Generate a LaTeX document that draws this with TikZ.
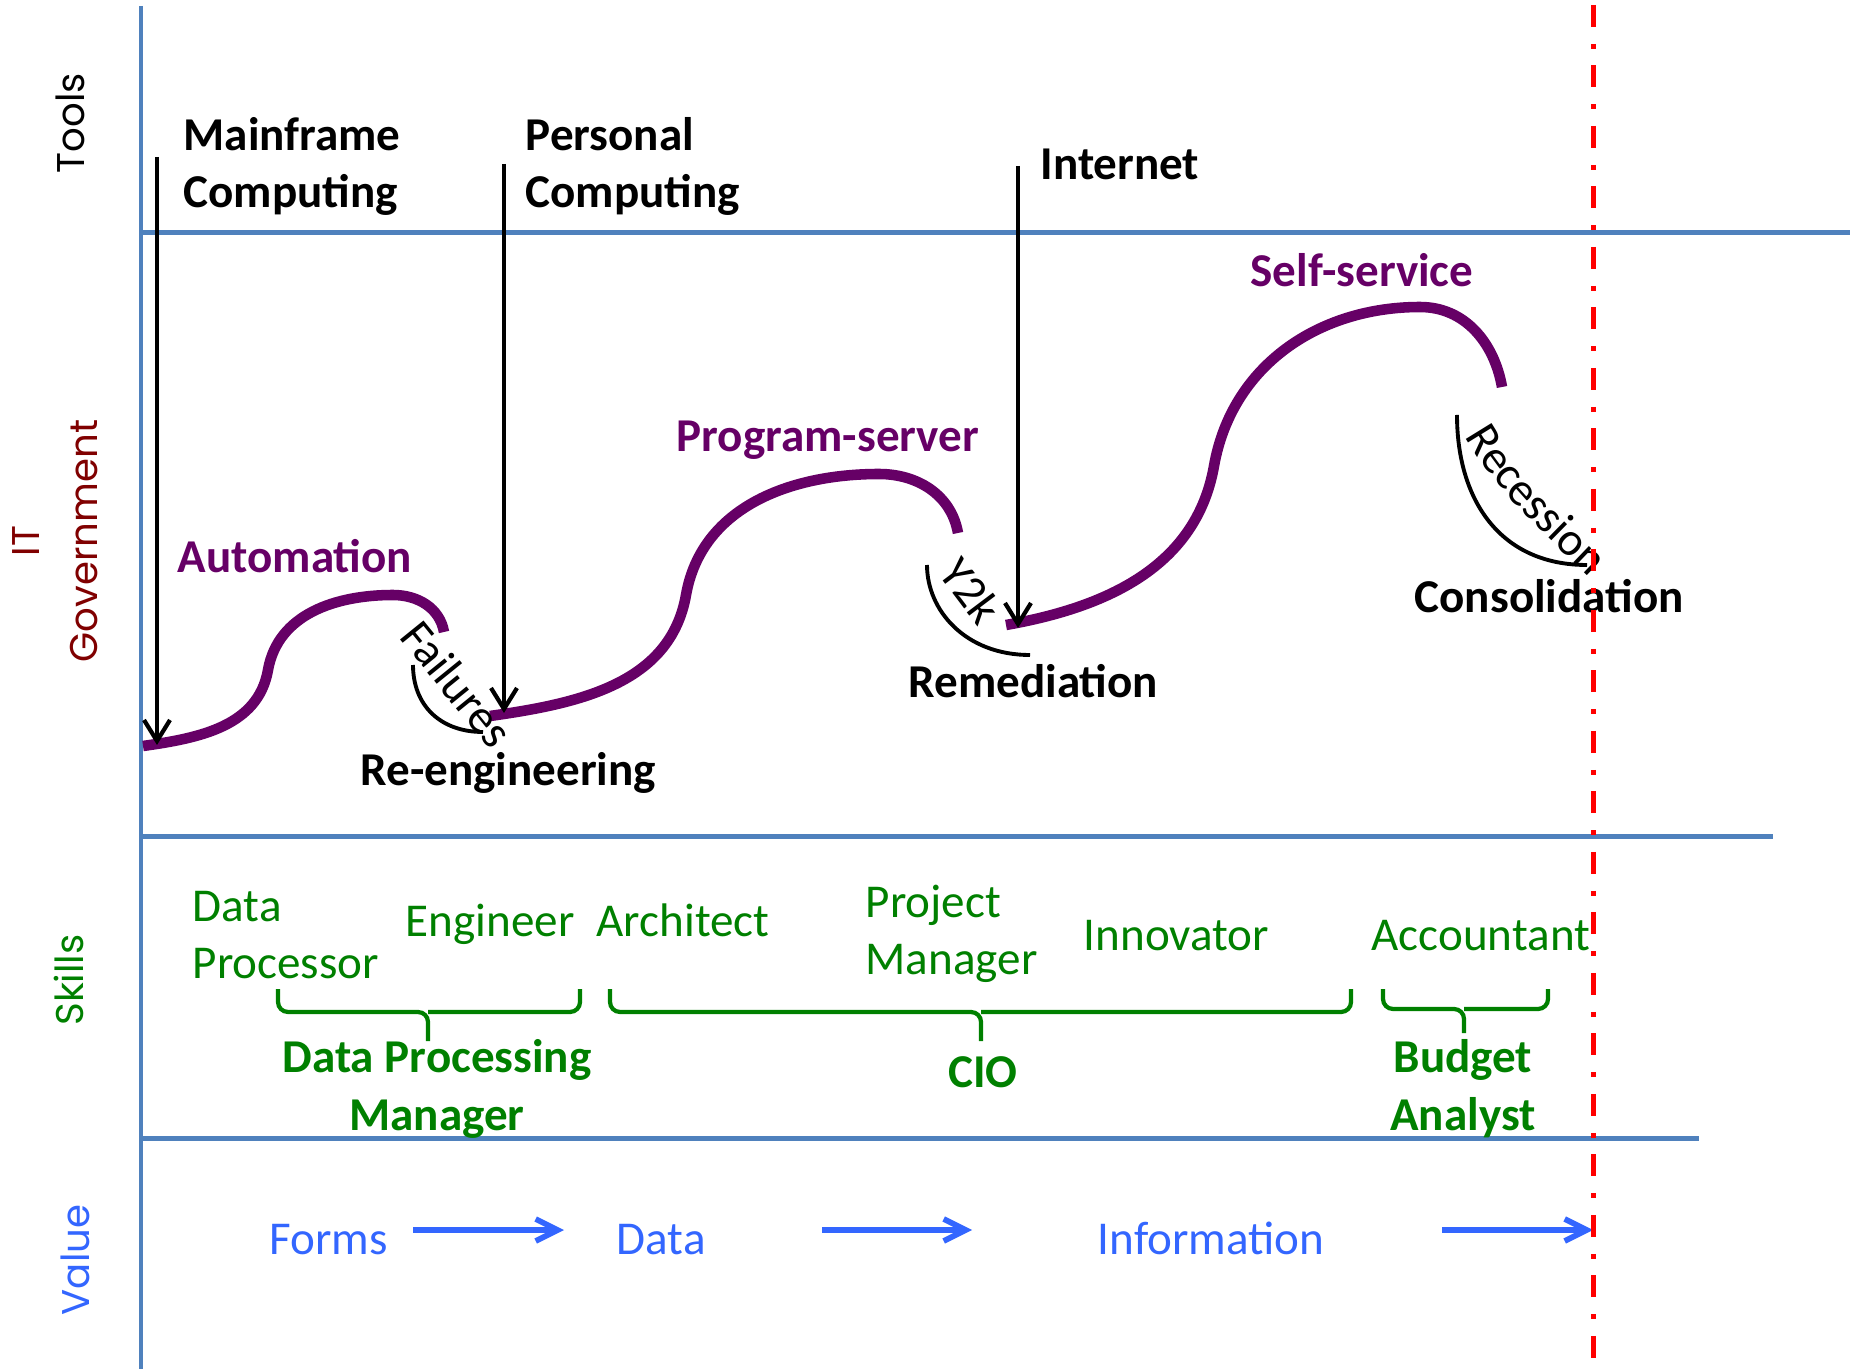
\documentclass[tikz,border=0pt]{standalone}
\usepackage{fontspec}
\setmainfont{Carlito}
\newfontfamily\gothicfont{Poppins}
\usetikzlibrary{arrows.meta,positioning,decorations.text}

\definecolor{axisblue}{RGB}{79,129,189}
\definecolor{wavepurple}{RGB}{102,0,102}
\definecolor{skillgreen}{RGB}{0,128,0}
\definecolor{valueblue}{RGB}{51,102,255}
\definecolor{govred}{RGB}{128,0,0}

\newcommand{\lblsize}{\fontsize{13.4}{16.5}\selectfont}

\tikzset{
    axisline/.style={draw=axisblue, line width=1.4pt},
    bandtext/.style={font=\gothicfont\fontsize{11}{16.5}\selectfont, rotate=90, align=center, inner sep=0},
    tooltext/.style={font=\lblsize\bfseries, anchor=base west, align=left, inner sep=0},
    eratext/.style={font=\lblsize\bfseries, text=wavepurple, anchor=base west, inner sep=0},
    eventtext/.style={font=\lblsize, inner sep=0},
    hitarrow/.style={draw, line width=1.2pt, -{Straight Barb[length=2.1mm,width=2.6mm]}},
    wavecurve/.style={draw=wavepurple, line width=3pt},
    dipline/.style={draw, line width=1.1pt},
    skilltext/.style={font=\lblsize, text=skillgreen, anchor=base west, align=left, inner sep=0},
    roletext/.style={font=\lblsize\bfseries, text=skillgreen, anchor=base, align=center, inner sep=0},
    bracketline/.style={draw=skillgreen, line width=1.2pt, rounded corners=1mm},
    valuetext/.style={font=\lblsize, text=valueblue, anchor=base west, inner sep=0},
    flowarrow/.style={draw=valueblue, line width=1.6pt, -{Straight Barb[length=2.2mm,width=2.2mm]}},
    nowline/.style={draw=red, line width=1.5pt, dash pattern=on 2.2mm off 1.7mm on 0.5mm off 1.65mm}
}

\begin{document}
\begin{tikzpicture}
    \useasboundingbox (0,0) rectangle (18.5,-13.69);

    % bands
    \draw[axisline] (1.41,-0.06) -- (1.41,-13.69);
    \draw[axisline] (1.41,-2.325) -- (18.5,-2.325);
    \draw[axisline] (1.41,-8.365) -- (17.73,-8.365);
    \draw[axisline] (1.41,-11.385) -- (16.99,-11.385);
    \node[bandtext] (tools) at (0.70,-1.23) {Tools};
    \node[bandtext, text=govred] (gov) at (0.55,-5.41) {IT\\Government};
    \node[bandtext, text=skillgreen] (skills) at (0.69,-9.80) {Skills};
    \node[bandtext, text=valueblue] (value) at (0.75,-12.60) {Value};

    % tools and the waves they start
    \node[tooltext] (mainframe) at (1.83,-2.08) {Mainframe\\Computing};
    \node[tooltext] (personal) at (5.25,-2.08) {Personal\\Computing};
    \node[tooltext] (internet) at (10.40,-1.80) {Internet};
    \coordinate (mf top) at (1.57,-1.57);
    \coordinate (mf hit) at (1.57,-7.45);
    \coordinate (pc top) at (5.04,-1.64);
    \coordinate (pc hit) at (5.04,-7.13);
    \coordinate (net top) at (10.18,-1.66);
    \coordinate (net hit) at (10.18,-6.28);

    \draw[wavecurve] (1.43,-7.46) to[out=8,in=-100] (2.68,-6.70) to[out=80,in=180] (3.93,-5.95) to[out=0,in=100] (4.44,-6.32);
    \draw[wavecurve] (4.90,-7.16) to[out=8,in=-100] (6.86,-5.95) to[out=80,in=180] (8.79,-4.74) to[out=0,in=100] (9.58,-5.33);
    \draw[wavecurve] (10.06,-6.25) to[out=10,in=-100] (12.14,-4.66) to[out=80,in=180] (14.20,-3.07) to[out=0,in=100] (15.02,-3.87);

    \draw[hitarrow] (mf top) -- (mf hit);
    \draw[hitarrow] (pc top) -- (pc hit);
    \draw[hitarrow] (net top) -- (net hit);

    \node[eratext] (automation) at (1.77,-5.73) {Automation};
    \node[eratext] (progserver) at (6.76,-4.52) {Program-server};
    \node[eratext] (selfservice) at (12.50,-2.87) {Self-service};

    % dips between waves
    \draw[dipline] (4.13,-6.65) .. controls (4.13,-7.05) and (4.40,-7.32) .. (4.83,-7.32);
    \draw[dipline] (9.27,-5.65) .. controls (9.27,-6.10) and (9.65,-6.55) .. (10.30,-6.55);
    \draw[dipline] (14.57,-4.15) .. controls (14.57,-5.00) and (15.00,-5.65) .. (15.87,-5.65);
    \node[eventtext, rotate=-51] (failures) at (4.57,-6.84) {Failures};
    \node[eventtext, rotate=-53] (y2k) at (9.71,-5.91) {Y2k};
    \path[decorate, decoration={text along path, text align=center, text={|\lblsize|Recession}}]
        (14.58,-4.22) .. controls (14.865,-4.86) and (15.586,-5.466) .. (16.01,-5.89);

    \node[tooltext] (reeng) at (3.60,-7.85) {Re-engineering};
    \node[tooltext] (remed) at (9.08,-6.98) {Remediation};
    \node[tooltext] (consol) at (14.14,-6.13) {Consolidation};

    % skills
    \node[skilltext] (dataproc) at (1.92,-9.79) {Data\\Processor};
    \node[skilltext] (engineer) at (4.05,-9.366) {Engineer};
    \node[skilltext] (architect) at (5.96,-9.366) {Architect};
    \node[skilltext] (projmgr) at (8.65,-9.75) {Project\\Manager};
    \node[skilltext] (innovator) at (10.83,-9.51) {Innovator};
    \node[skilltext] (accountant) at (13.71,-9.51) {Accountant};

    \draw[bracketline] (2.78,-9.89) |- (4.28,-10.12) -- (4.28,-10.41);
    \draw[bracketline] (5.80,-9.89) |- (4.28,-10.12);
    \draw[bracketline] (6.10,-9.89) |- (9.81,-10.12) -- (9.81,-10.41);
    \draw[bracketline] (13.51,-9.89) |- (9.81,-10.12);
    \draw[bracketline] (13.83,-9.89) |- (14.64,-10.09) -- (14.64,-10.33);
    \draw[bracketline] (15.48,-9.89) |- (14.64,-10.09);

    \node[roletext] (dpmgr) at (4.37,-11.30) {Data Processing\\Manager};
    \node[roletext] (cio) at (9.83,-10.87) {CIO};
    \node[roletext] (budget) at (14.63,-11.30) {Budget\\Analyst};

    % value
    \node[valuetext] (forms) at (2.69,-12.54) {Forms};
    \node[valuetext] (data) at (6.16,-12.54) {Data};
    \node[valuetext] (info) at (10.97,-12.54) {Information};
    \coordinate (f1) at (4.13,-12.30);
    \coordinate (f2) at (5.64,-12.30);
    \coordinate (f3) at (8.22,-12.30);
    \coordinate (f4) at (9.72,-12.30);
    \coordinate (f5) at (14.42,-12.30);
    \coordinate (f6) at (15.93,-12.30);
    \draw[flowarrow] (f1) -- (f2);
    \draw[flowarrow] (f3) -- (f4);
    \draw[flowarrow] (f5) -- (f6);

    % today
    \draw[nowline] (15.935,-0.05) -- (15.935,-13.69);
\end{tikzpicture}
\end{document}
